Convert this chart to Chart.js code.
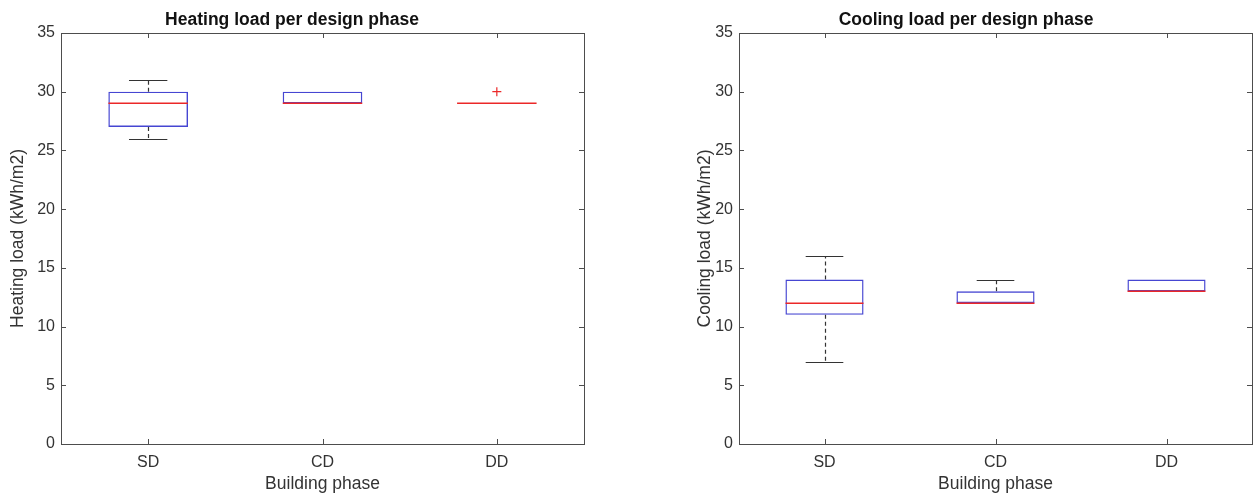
<!DOCTYPE html>
<html>
<head>
<meta charset="utf-8">
<script src="https://cdn.jsdelivr.net/npm/chart.js@4.4.0/dist/chart.umd.min.js"></script>
<style>
  html, body { margin: 0; padding: 0; background: #fff; }
  #wrap { position: relative; width: 1254px; height: 496px; overflow: hidden; }
  #c1 { position: absolute; left: 0; top: 0; }
  #c2 { position: absolute; left: 620px; top: 0; }
</style>
</head>
<body>
<div id="wrap">
  <canvas id="c1" width="620" height="496"></canvas>
  <canvas id="c2" width="634" height="496"></canvas>
</div>
<script>
// categories
const phases = ['SD', 'CD', 'DD'];

// heating load box stats (kWh/m2)
const heatMin = [26, 29, 29];
const heatQ1  = [27, 29, 29];
const heatMed = [29, 29, 29];
const heatQ3  = [30, 30, 29];
const heatMax = [31, 30, 29];
const heatOutliers = [[], [], [30]];

// cooling load box stats (kWh/m2)
const coolMin = [7, 12, 13];
const coolQ1  = [11, 12, 13];
const coolMed = [12, 12, 13];
const coolQ3  = [14, 13, 14];
const coolMax = [16, 14, 14];
const coolOutliers = [[], [], []];

// y axis ticks
const yMin = 0;
const yMax = 35;
const yStep = 5;

Chart.defaults.font.family = "'Liberation Sans', Arial, sans-serif";
Chart.defaults.color = '#333';

const BOX_COLOR = 'rgb(70, 70, 210)';
const MED_COLOR = 'rgb(235, 40, 40)';
const WHISK_COLOR = '#333';
const FRAME_COLOR = '#4d4d4d';

// whiskers + caps (under the boxes), medians (over them), frame and inward ticks
function makeBoxPlugin(mins, meds, maxs, q1s, q3s) {
  return {
    id: 'boxWhiskers',
    beforeDatasetsDraw(chart) {
      const ctx = chart.ctx;
      const x = chart.scales.x, y = chart.scales.y;
      ctx.save();
      ctx.strokeStyle = WHISK_COLOR;
      ctx.lineWidth = 1.2;
      for (let i = 0; i < phases.length; i++) {
        const cx = Math.round(x.getPixelForValue(i)) + 0.5;
        const capL = x.getPixelForValue(i - 0.11);
        const capR = x.getPixelForValue(i + 0.11);
        // dashed whiskers
        ctx.setLineDash([4, 3]);
        ctx.beginPath();
        ctx.moveTo(cx, y.getPixelForValue(q3s[i]));
        ctx.lineTo(cx, y.getPixelForValue(maxs[i]));
        ctx.moveTo(cx, y.getPixelForValue(q1s[i]));
        ctx.lineTo(cx, y.getPixelForValue(mins[i]));
        ctx.stroke();
        // caps
        ctx.setLineDash([]);
        ctx.beginPath();
        const yt = Math.round(y.getPixelForValue(maxs[i])) + 0.5;
        const yb = Math.round(y.getPixelForValue(mins[i])) + 0.5;
        ctx.moveTo(capL, yt); ctx.lineTo(capR, yt);
        ctx.moveTo(capL, yb); ctx.lineTo(capR, yb);
        ctx.stroke();
      }
      ctx.restore();
    },
    afterDatasetsDraw(chart) {
      const ctx = chart.ctx;
      const x = chart.scales.x, y = chart.scales.y;
      ctx.save();
      ctx.setLineDash([]);
      ctx.fillStyle = MED_COLOR;
      for (let i = 0; i < phases.length; i++) {
        const l = x.getPixelForValue(i - 0.228);
        const r = x.getPixelForValue(i + 0.228);
        const py = Math.round(y.getPixelForValue(meds[i]));
        ctx.fillRect(l, py - 0.5, r - l, 1.5);
      }
      ctx.restore();
    },
    afterDraw(chart) {
      const ctx = chart.ctx;
      const {left, right, top, bottom} = chart.chartArea;
      const x = chart.scales.x, y = chart.scales.y;
      ctx.save();
      ctx.strokeStyle = FRAME_COLOR;
      ctx.lineWidth = 1;
      ctx.strokeRect(left + 0.5, top + 0.5, right - left, bottom - top);
      ctx.beginPath();
      y.ticks.forEach(t => {
        const py = Math.round(y.getPixelForValue(t.value)) + 0.5;
        ctx.moveTo(left, py); ctx.lineTo(left + 5, py);
        ctx.moveTo(right, py); ctx.lineTo(right - 5, py);
      });
      for (let i = 0; i < phases.length; i++) {
        const px = Math.round(x.getPixelForValue(i)) + 0.5;
        ctx.moveTo(px, bottom); ctx.lineTo(px, bottom - 5);
        ctx.moveTo(px, top); ctx.lineTo(px, top + 5);
      }
      ctx.stroke();
      ctx.restore();
    }
  };
}

function makeChart(id, title, yTitle, mins, q1s, meds, q3s, maxs, outliers, yAxisWidth, yTitlePad, padLeft, padRight) {
  const boxes = phases.map((p, i) => [q1s[i], q3s[i]]);
  const outPts = [];
  outliers.forEach((list, i) => list.forEach(v => outPts.push({x: phases[i], y: v})));

  return new Chart(document.getElementById(id), {
    type: 'bar',
    data: {
      labels: phases,
      datasets: [
        {
          label: 'box',
          data: boxes,
          backgroundColor: 'rgba(0,0,0,0)',
          borderColor: BOX_COLOR,
          borderWidth: 1.4,
          borderSkipped: false,
          categoryPercentage: 1,
          barPercentage: 0.457,
        },
        {
          type: 'line',
          label: 'outliers',
          data: outPts,
          showLine: false,
          pointStyle: 'cross',
          pointRadius: 4.5,
          borderColor: MED_COLOR,
          borderWidth: 1.2,
        },
      ],
    },
    options: {
      responsive: false,
      animation: false,
      layout: { padding: { left: padLeft, right: padRight, top: 0, bottom: 0 } },
      scales: {
        x: {
          grid: { display: false, drawTicks: false },
          border: { display: false },
          ticks: { font: { size: 16 }, color: '#333', padding: 9 },
          title: { display: true, text: 'Building phase', font: { size: 17.5 }, color: '#333', padding: { top: 0, bottom: 1 } },
          afterFit(scale) { scale.height = 52; },
        },
        y: {
          min: yMin,
          max: yMax,
          grid: { display: false, drawTicks: false },
          border: { display: false },
          ticks: { stepSize: yStep, font: { size: 16 }, color: '#333', padding: 6 },
          title: { display: true, text: yTitle, font: { size: 17.5 }, color: '#333', padding: { top: yTitlePad, bottom: 0 } },
          afterFit(scale) { scale.width = yAxisWidth; },
        },
      },
      plugins: {
        legend: { display: false },
        tooltip: { enabled: false },
        title: {
          display: true,
          text: title,
          color: '#111',
          font: { size: 17.5, weight: 'bold' },
          padding: { top: 10, bottom: 2 },
        },
      },
    },
    plugins: [makeBoxPlugin(mins, meds, maxs, q1s, q3s)],
  });
}

makeChart('c1', 'Heating load per design phase', 'Heating load (kWh/m2)',
  heatMin, heatQ1, heatMed, heatQ3, heatMax, heatOutliers, 61, 8, 0, 36);
makeChart('c2', 'Cooling load per design phase', 'Cooling load (kWh/m2)',
  coolMin, coolQ1, coolMed, coolQ3, coolMax, coolOutliers, 59, 15, 60, 2);
</script>
</body>
</html>
